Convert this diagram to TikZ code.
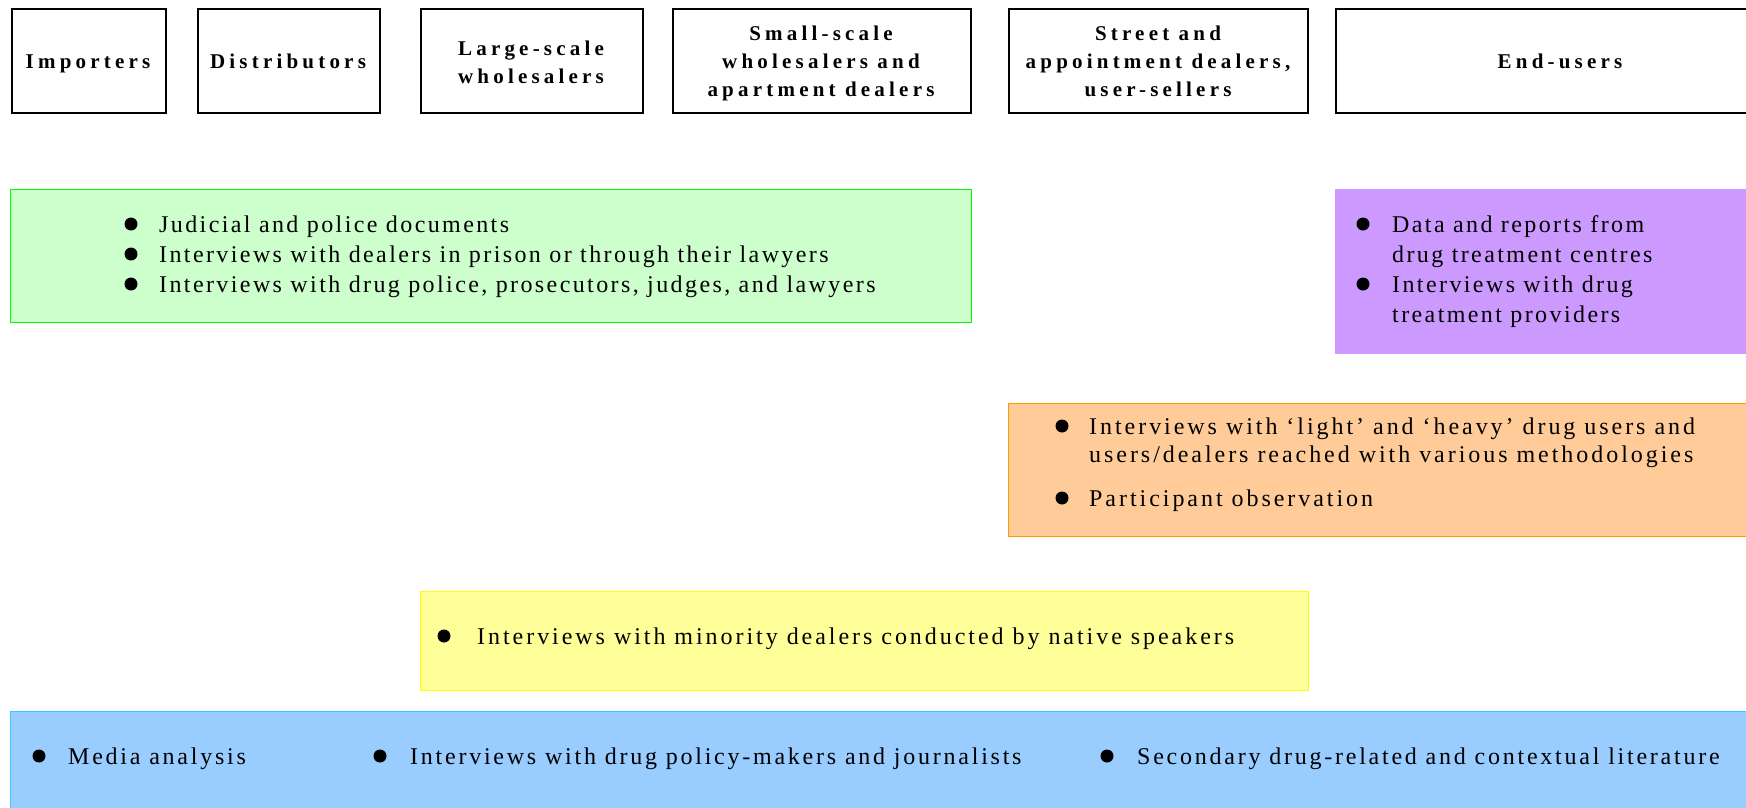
\documentclass[tikz,border=0pt]{standalone}
\usepackage{fontspec}
\setmainfont{Liberation Serif}
\newfontfamily\itemfont[LetterSpace=10]{Liberation Serif}
\newfontfamily\openfont[LetterSpace=12.3]{Liberation Serif}
\newfontfamily\widefont[LetterSpace=11.5]{Liberation Serif}
\newfontfamily\headfont[LetterSpace=20]{Liberation Serif}

\definecolor{greenfill}{HTML}{CCFFCC}
\definecolor{greenline}{HTML}{00FF00}
\definecolor{violetfill}{HTML}{CC99FF}
\definecolor{orangefill}{HTML}{FFCC99}
\definecolor{orangeline}{HTML}{FF9900}
\definecolor{yellowfill}{HTML}{FFFF99}
\definecolor{yellowline}{HTML}{FFFF00}
\definecolor{bluefill}{HTML}{99CCFF}
\definecolor{blueline}{HTML}{33CCFF}

% struts fixing the first baseline of a text node below its top edge
\newcommand\headstrut{\rule{0pt}{16pt}}
\newcommand\itemstrut{\rule{0pt}{18pt}}

\tikzset{
  levelbox/.style={draw=black, line width=1.5pt, fill=white, anchor=north west,
    inner sep=0pt},
  leveltext/.style={font=\headfont\bfseries\fontsize{21}{28}\selectfont,
    align=center, anchor=north, inner sep=0pt},
  band/.style={anchor=north west, inner sep=0pt, line width=1.2pt},
  dot/.style={circle, fill=black, minimum size=13pt, inner sep=0pt},
  itemtext/.style={font=\itemfont\fontsize{24}{30}\selectfont, align=left,
    anchor=north west, inner sep=0pt},
  opentext/.style={itemtext, font=\openfont\fontsize{24}{28}\selectfont},
  widetext/.style={itemtext, font=\widefont\fontsize{24}{30}\selectfont},
}

\begin{document}
\begin{tikzpicture}[x=1pt, y=-1pt]
\useasboundingbox (0,0) rectangle (1746,807);
\clip (0,0) rectangle (1746,807);

% market levels
\node[levelbox, minimum width=154pt, minimum height=104pt] (imp) at (11,8) {};
\node[levelbox, minimum width=182pt, minimum height=104pt] (dis) at (197,8) {};
\node[levelbox, minimum width=222pt, minimum height=104pt] (lsw) at (420,8) {};
\node[levelbox, minimum width=298pt, minimum height=104pt] (ssw) at (672,8) {};
\node[levelbox, minimum width=299pt, minimum height=104pt] (sad) at (1008,8) {};
\node[levelbox, minimum width=450pt, minimum height=104pt] (end) at (1335,8) {};

\node[leveltext] (impT) at (88,52) {\headstrut Importers};
\node[leveltext] (disT) at (288,52) {\headstrut Distributors};
\node[leveltext] (lswT) at (531,39) {\headstrut Large-scale\\wholesalers};
\node[leveltext] (sswT) at (821,24) {\headstrut Small-scale\\wholesalers and\\apartment dealers};
\node[leveltext] (sadT) at (1158,24) {\headstrut Street and\\appointment dealers,\\user-sellers};
\node[leveltext] (endT) at (1560,52) {\headstrut End-users};

% data sources per level
\node[band, fill=greenfill, draw=greenline, minimum width=961pt, minimum height=133pt] (green) at (10,189) {};
\node[band, fill=violetfill, draw=violetfill, minimum width=450pt, minimum height=164pt] (violet) at (1335,189) {};
\node[band, fill=orangefill, draw=orangeline, minimum width=777pt, minimum height=133pt] (orange) at (1008,403) {};
\node[band, fill=yellowfill, draw=yellowline, minimum width=888pt, minimum height=99pt] (yellow) at (420,591) {};
\node[band, fill=bluefill, draw=blueline, minimum width=1775pt, minimum height=110pt] (blue) at (10,711) {};

% judicial sources
\node[dot] (g1d) at (131,224) {};
\node[itemtext] (g1) at (159,214) {\itemstrut Judicial and police documents};
\node[dot] (g2d) at (131,254) {};
\node[itemtext] (g2) at (159,244) {\itemstrut Interviews with dealers in prison or through their lawyers};
\node[dot] (g3d) at (131,284) {};
\node[itemtext] (g3) at (159,274) {\itemstrut Interviews with drug police, prosecutors, judges, and lawyers};

% treatment sources
\node[dot] (v1d) at (1363,224) {};
\node[itemtext] (v1) at (1392,214) {\itemstrut Data and reports from\\drug treatment centres};
\node[dot] (v2d) at (1363,284) {};
\node[itemtext] (v2) at (1392,274) {\itemstrut Interviews with drug\\treatment providers};

% street-level sources
\node[dot] (o1d) at (1062,426) {};
\node[opentext] (o1) at (1089,416) {\itemstrut Interviews with ‘light’ and ‘heavy’ drug users and\\users/dealers reached with various methodologies};
\node[dot] (o2d) at (1062,498) {};
\node[opentext] (o2) at (1089,488) {\itemstrut Participant observation};

% minority dealers
\node[dot] (y1d) at (444,636) {};
\node[opentext] (y1) at (477,626) {\itemstrut Interviews with minority dealers conducted by native speakers};

% general sources
\node[dot] (b1d) at (39,756) {};
\node[widetext] (b1) at (68,746) {\itemstrut Media analysis};
\node[dot] (b2d) at (380,756) {};
\node[widetext] (b2) at (410,746) {\itemstrut Interviews with drug policy-makers and journalists};
\node[dot] (b3d) at (1107,756) {};
\node[widetext] (b3) at (1137,746) {\itemstrut Secondary drug-related and contextual literature};
\end{tikzpicture}
\end{document}
